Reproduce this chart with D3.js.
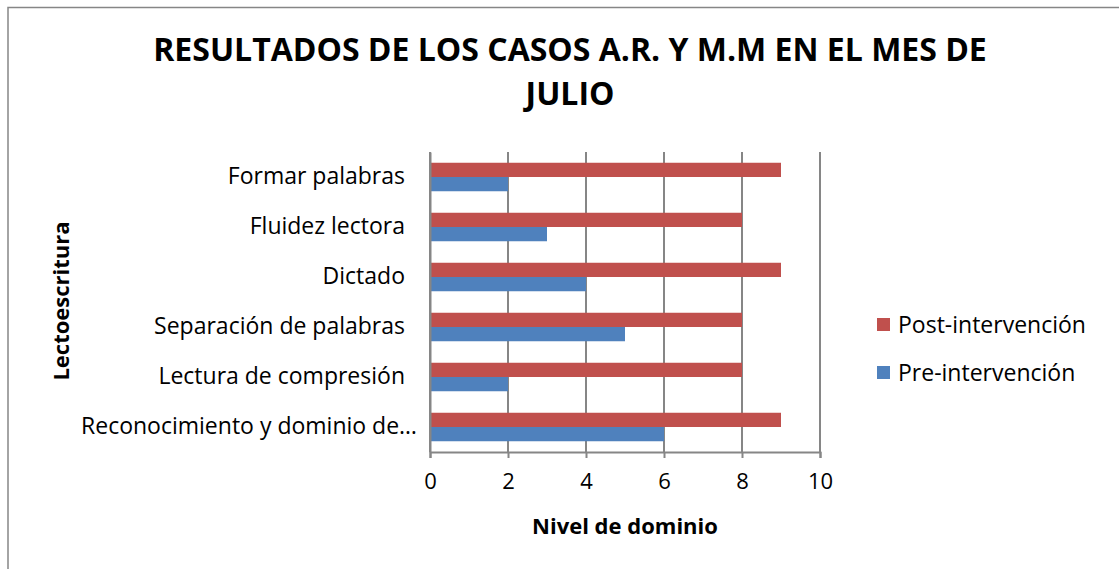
<!DOCTYPE html>
<html><head><meta charset="utf-8">
<script src="https://cdn.jsdelivr.net/npm/d3@7"></script>
<style>body{margin:0;background:#fff}svg{display:block}text{font-family:"Open Sans",sans-serif}</style>
</head><body>
<svg id="c" width="1119" height="569"></svg>
<script>
const categories = ["Reconocimiento y dominio de…","Lectura de compresión","Separación de palabras","Dictado","Fluidez lectora","Formar palabras"];
const preValues = [6,2,5,4,3,2];
const postValues = [9,8,8,9,8,9];
const seriesNames = ["Post-intervención","Pre-intervención"];
const xTicks = [0,2,4,6,8,10];
const titleLines = ["RESULTADOS DE LOS CASOS A.R. Y M.M EN EL MES DE","JULIO"];

const svg = d3.select("#c");
const colors = {"Post-intervención":"#C0504D","Pre-intervención":"#4F81BD"};
const grid = "#868686";
const L=430,R=820,T=152,B=452;
const FF = "'Open Sans'";

svg.append("rect").attr("x",8).attr("y",7.5).attr("width",1200).attr("height",700)
  .attr("fill","none").attr("stroke","#868686").attr("stroke-width",1.5);

const x = d3.scaleLinear().domain([0,10]).range([L,R]);
const y = d3.scaleBand().domain(categories.slice().reverse()).range([T,B]).paddingInner(0.43).paddingOuter(0.215);
const ys = d3.scaleBand().domain(seriesNames).range([0,y.bandwidth()]);

svg.append("g").selectAll("line").data(xTicks).join("line")
  .attr("x1",d=>x(d)).attr("x2",d=>x(d)).attr("y1",T).attr("y2",B)
  .attr("stroke",grid).attr("stroke-width",2);

const data = categories.map((c,i)=>({c, "Post-intervención":postValues[i], "Pre-intervención":preValues[i]}));
const g = svg.append("g");
data.forEach(d=>{
  seriesNames.forEach(s=>{
    g.append("rect").attr("x",x(0)).attr("y",y(d.c)+ys(s))
      .attr("width",x(d[s])-x(0)).attr("height",ys.bandwidth()).attr("fill",colors[s]);
  });
});

const xa = svg.append("g").attr("transform",`translate(0,${B})`)
  .call(d3.axisBottom(x).tickValues(xTicks).tickSize(6).tickPadding(15).tickFormat(d3.format("d")));
xa.select(".domain").attr("stroke",grid).attr("stroke-width",2);
xa.selectAll(".tick line").attr("stroke",grid).attr("stroke-width",2);
xa.selectAll("text").attr("font-size",22).attr("fill","#000").style("font-family",FF);

const ya = svg.append("g").attr("transform",`translate(${L},0)`)
  .call(d3.axisLeft(y).tickSize(0).tickPadding(25));
ya.select(".domain").attr("stroke",grid).attr("stroke-width",2);
ya.selectAll("text").attr("font-size",23).attr("fill","#000").attr("dy","0.32em").style("font-family",FF)
  .attr("dx",d=>d.endsWith("…")?12:0);

svg.append("g").selectAll("text").data(titleLines).join("text")
  .attr("x",570).attr("y",(d,i)=>61+i*44).attr("text-anchor","middle")
  .attr("font-size",32).attr("font-weight","bold").attr("fill","#000").text(d=>d);

svg.append("text").attr("x",625).attr("y",534).attr("text-anchor","middle")
  .attr("font-size",22).attr("font-weight","bold").text("Nivel de dominio");
svg.append("text").attr("transform","translate(69,301) rotate(-90)").attr("text-anchor","middle")
  .attr("font-size",22).attr("font-weight","bold").text("Lectoescritura");

const lg = svg.append("g").selectAll("g").data(seriesNames).join("g")
  .attr("transform",(d,i)=>`translate(877,${318+i*48})`);
lg.append("rect").attr("width",13).attr("height",13).attr("fill",d=>colors[d]);
lg.append("text").attr("x",21).attr("y",7).attr("dy","0.35em").attr("font-size",23).text(d=>d);
</script>
</body></html>
